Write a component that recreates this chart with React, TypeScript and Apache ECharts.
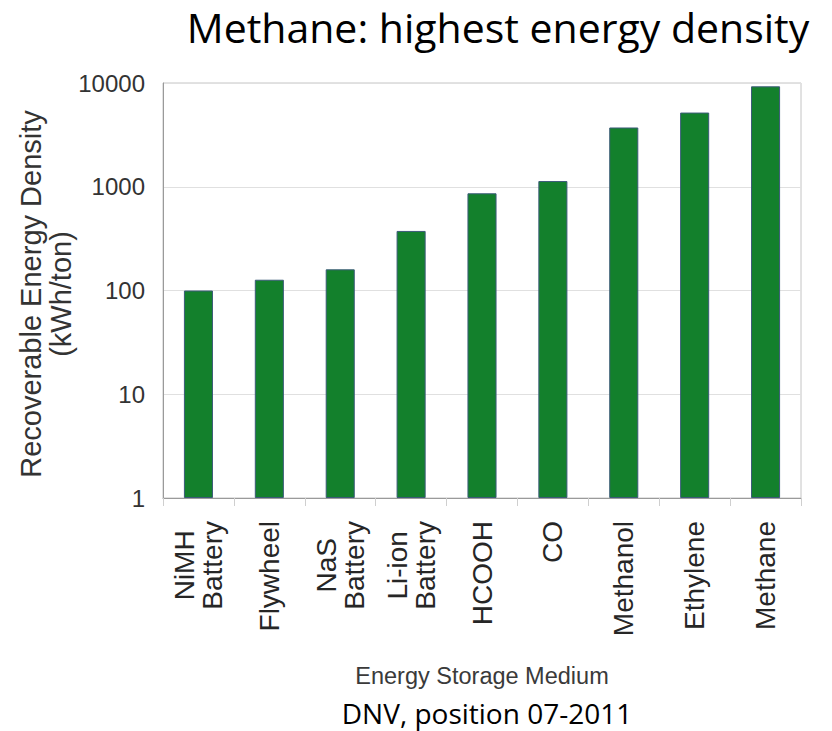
import React, { useEffect, useRef } from "react";
import * as echarts from "echarts";

// Recoverable energy density per storage medium (kWh/ton), log scale
const categories = [
  "NiMH\nBattery",
  "Flywheel",
  "NaS\nBattery",
  "Li-ion\nBattery",
  "HCOOH",
  "CO",
  "Methanol",
  "Ethylene",
  "Methane",
];
const densityValues = [100, 127, 160, 375, 865, 1135, 3725, 5190, 9290];
const yTickLabels = ["1", "10", "100", "1000", "10000"];

const titleText = "Methane: highest energy density";
const sourceText = "DNV, position 07-2011";
const xAxisTitle = "Energy Storage Medium";
const yAxisTitle = "Recoverable Energy Density\n(kWh/ton)";

const CHART_FONT = "'Liberation Sans', Arial, sans-serif";
const SLIDE_FONT = "'Open Sans', 'Noto Sans', sans-serif";

export default function App() {
  const ref = useRef<HTMLDivElement>(null);

  useEffect(() => {
    if (!ref.current) return;
    const chart = echarts.init(ref.current, null, { renderer: "svg" });

    chart.setOption({
      animation: false,
      backgroundColor: "#ffffff",
      grid: {
        left: 163,
        right: 31,
        top: 83,
        bottom: 233,
        show: true,
        borderColor: "#c4c4c4",
        borderWidth: 1,
      },
      xAxis: {
        type: "category",
        data: categories,
        name: xAxisTitle,
        nameLocation: "middle",
        nameGap: 166,
        nameTextStyle: {
          fontFamily: CHART_FONT,
          fontSize: 23.5,
          color: "#3a3a3a",
        },
        axisLine: { show: true, lineStyle: { color: "#9a9a9a", width: 1 } },
        axisTick: {
          show: true,
          alignWithLabel: false,
          length: 8,
          lineStyle: { color: "#cfcfcf", width: 1 },
        },
        axisLabel: {
          interval: 0,
          rotate: 90,
          margin: 23,
          fontFamily: CHART_FONT,
          fontSize: 28,
          lineHeight: 28,
          color: "#262626",
          formatter: (v: string) =>
            v
              .split("\n")
              .map((line) => `{c|${line}}`)
              .join("\n"),
          rich: {
            c: {
              align: "center",
              fontFamily: CHART_FONT,
              fontSize: 28,
              lineHeight: 28,
              color: "#262626",
            },
          },
        },
        splitLine: { show: false },
      },
      yAxis: {
        type: "log",
        logBase: 10,
        min: 1,
        max: 10000,
        axisLine: { show: true, lineStyle: { color: "#9a9a9a", width: 1 } },
        axisTick: { show: false },
        minorTick: { show: false },
        axisLabel: {
          margin: 18,
          fontFamily: CHART_FONT,
          fontSize: 24,
          color: "#333333",
          formatter: (v: number) => {
            const label = String(Math.round(v));
            return yTickLabels.includes(label) ? label : "";
          },
        },
        splitLine: { show: true, lineStyle: { color: "#e0e0e0", width: 1 } },
      },
      series: [
        {
          type: "bar",
          data: densityValues,
          barWidth: "41%",
          itemStyle: {
            color: "#13802c",
            borderColor: "#3b5b78",
            borderWidth: 1,
          },
        },
      ],
      graphic: [
        {
          type: "text",
          x: 498,
          y: 6,
          style: {
            text: titleText,
            fontFamily: SLIDE_FONT,
            fontSize: 41,
            lineHeight: 42,
            fill: "#000000",
            textAlign: "center",
            textVerticalAlign: "top",
          },
        },
        {
          type: "text",
          x: 46,
          y: 294,
          rotation: Math.PI / 2,
          style: {
            text: yAxisTitle,
            fontFamily: CHART_FONT,
            fontSize: 29,
            lineHeight: 30,
            fill: "#333333",
            textAlign: "center",
            textVerticalAlign: "middle",
          },
        },
        {
          type: "text",
          x: 487,
          y: 713,
          style: {
            text: sourceText,
            fontFamily: SLIDE_FONT,
            fontSize: 28,
            lineHeight: 30,
            fill: "#000000",
            textAlign: "center",
            textVerticalAlign: "middle",
          },
        },
      ],
    });

    return () => chart.dispose();
  }, []);

  return (
    <div
      ref={ref}
      style={{
        position: "absolute",
        left: 0,
        top: 0,
        width: 832,
        height: 731,
        background: "#ffffff",
      }}
    />
  );
}
